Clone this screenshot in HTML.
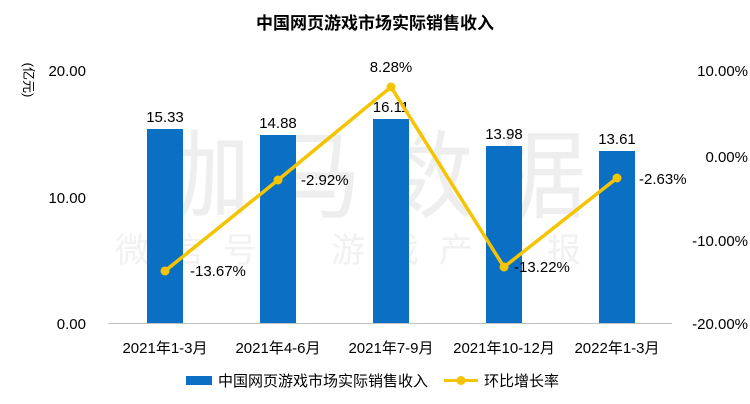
<!DOCTYPE html>
<html><head><meta charset="utf-8"><style>
body{margin:0;background:#fff;}
svg{display:block;font-family:"Liberation Sans","Noto Sans CJK SC",sans-serif;}
</style></head><body>
<svg width="750" height="404" viewBox="0 0 750 404" xmlns="http://www.w3.org/2000/svg">
<rect width="750" height="404" fill="#fff"/>
<text x="375" y="29" text-anchor="middle" font-size="17" font-weight="bold" fill="#000">中国网页游戏市场实际销售收入</text>
<text x="378" y="210" text-anchor="middle" font-size="96" fill="#eeeeee" letter-spacing="16">伽马数据</text>
<text x="385" y="262" text-anchor="middle" font-size="34" fill="#f1f1f1" letter-spacing="20">微信号：游戏产业报告</text>
<g font-size="15" fill="#000" text-anchor="end">
<text x="86" y="76">20.00</text>
<text x="86" y="203">10.00</text>
<text x="86" y="329">0.00</text>
</g>
<text x="24" y="80" font-size="13" transform="rotate(90 24 80)" text-anchor="middle">(亿元)</text>
<g font-size="15" fill="#000" text-anchor="end">
<text x="748" y="76">10.00%</text>
<text x="748" y="162">0.00%</text>
<text x="748" y="246">-10.00%</text>
<text x="748" y="329">-20.00%</text>
</g>
<g fill="#0b6fc4">
<rect x="147" y="129" width="36" height="194"/>
<rect x="260" y="135" width="36" height="188"/>
<rect x="373" y="119" width="36" height="204"/>
<rect x="486" y="146" width="36" height="177"/>
<rect x="599" y="151" width="36" height="172"/>
</g>
<line x1="108" y1="323.5" x2="672" y2="323.5" stroke="#bfbfbf" stroke-width="1"/>
<g font-size="15" fill="#000" text-anchor="middle">
<text x="165" y="122">15.33</text>
<text x="278" y="128">14.88</text>
<text x="391" y="112">16.11</text>
<text x="504" y="139">13.98</text>
<text x="617" y="144">13.61</text>
</g>
<polyline points="165,271 278,180 391,87 504,267 617,178" fill="none" stroke="#f5c400" stroke-width="3.5" stroke-linejoin="round"/>
<g fill="#f5c400">
<circle cx="165" cy="271" r="4.5"/><circle cx="278" cy="180" r="4.5"/><circle cx="391" cy="87" r="4.5"/><circle cx="504" cy="267" r="4.5"/><circle cx="617" cy="178" r="4.5"/>
</g>
<g font-size="15" fill="#000">
<text x="190" y="276">-13.67%</text>
<text x="301" y="185">-2.92%</text>
<text x="391" y="72" text-anchor="middle">8.28%</text>
<text x="514" y="272">-13.22%</text>
<text x="639" y="184">-2.63%</text>
</g>
<g font-size="15" fill="#000" text-anchor="middle">
<text x="165" y="353">2021年1-3月</text>
<text x="278" y="353">2021年4-6月</text>
<text x="391" y="353">2021年7-9月</text>
<text x="504" y="353">2021年10-12月</text>
<text x="617" y="353">2022年1-3月</text>
</g>
<rect x="186" y="376" width="26" height="9" fill="#0b6fc4"/>
<text x="218" y="386" font-size="15">中国网页游戏市场实际销售收入</text>
<line x1="444" y1="380.5" x2="478" y2="380.5" stroke="#f5c400" stroke-width="3"/>
<circle cx="461" cy="380.5" r="4.5" fill="#f5c400"/>
<text x="484" y="386" font-size="15">环比增长率</text>
</svg>
</body></html>
